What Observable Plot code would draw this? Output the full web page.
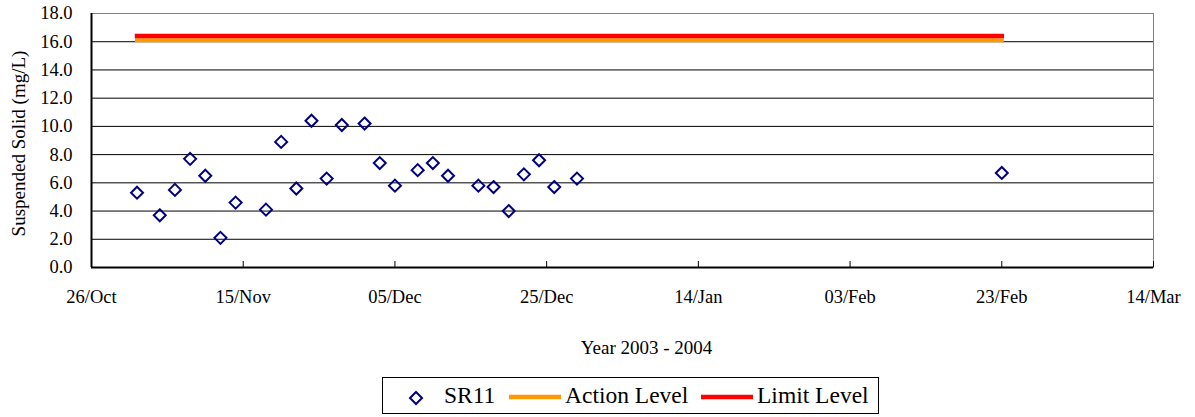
<!DOCTYPE html>
<html>
<head>
<meta charset="utf-8">
<script src="https://cdn.jsdelivr.net/npm/d3@7"></script>
<script src="https://cdn.jsdelivr.net/npm/@observablehq/plot@0.6"></script>
<style>
  html, body { margin: 0; padding: 0; background: #fff; }
  #wrap { position: relative; width: 1195px; height: 417px; overflow: hidden; font-family: "Liberation Serif", "Times New Roman", serif; }
  #legend { position: absolute; left: 382px; top: 377px; width: 495px; height: 35px; border: 1px solid #000; box-sizing: content-box; font-size: 23.5px; color: #000; }
  #legend .item { position: absolute; top: 0; height: 35px; line-height: 35px; white-space: nowrap; }
  #legend svg { position: absolute; }
</style>
</head>
<body>
<div id="wrap">
  <div id="chart"></div>
  <div id="legend"></div>
</div>
<script>
// ---- data ----
const sampleDates = ["2003-11-01","2003-11-04","2003-11-06","2003-11-08","2003-11-10","2003-11-12","2003-11-14",
  "2003-11-18","2003-11-20","2003-11-22","2003-11-24","2003-11-26","2003-11-28","2003-12-01","2003-12-03",
  "2003-12-05","2003-12-08","2003-12-10","2003-12-12","2003-12-16","2003-12-18","2003-12-20","2003-12-22",
  "2003-12-24","2003-12-26","2003-12-29","2004-02-23"];
const sr11 = [5.3, 3.7, 5.5, 7.7, 6.5, 2.1, 4.6,
  4.1, 8.9, 5.6, 10.4, 6.3, 10.1, 10.2, 7.4,
  5.8, 6.9, 7.4, 6.5, 5.8, 5.7, 4.0, 6.6,
  7.6, 5.7, 6.3, 6.7];
const levelDates = ["2003-11-01", "2004-02-23"];
const actionLevel = 16.1;
const limitLevel = 16.4;
const xTickDates = ["2003-10-26","2003-11-15","2003-12-05","2003-12-25","2004-01-14","2004-02-03","2004-02-23","2004-03-14"];
const yTicks = [0, 2, 4, 6, 8, 10, 12, 14, 16, 18];
const seriesNames = ["SR11", "Action Level", "Limit Level"];
const xTitle = "Year 2003 - 2004";
const yTitle = "Suspended Solid (mg/L)";

// ---- build ----
const parse = d3.utcParse("%Y-%m-%d");
const points = sampleDates.map((d, i) => ({date: parse(d), value: sr11[i]}));
const actionData = levelDates.map(d => ({date: parse(d), value: actionLevel}));
const limitData = levelDates.map(d => ({date: parse(d), value: limitLevel}));
const xTicks = xTickDates.map(parse);

const chart = Plot.plot({
  width: 1195,
  height: 367,
  marginLeft: 91,
  marginRight: 42,
  marginTop: 13,
  marginBottom: 100,
  style: {fontFamily: "'Liberation Serif', 'Times New Roman', serif", fontSize: "18.5px", color: "#000", background: "#fff"},
  x: {type: "utc", domain: [xTicks[0], xTicks[xTicks.length - 1]]},
  y: {domain: [0, 18]},
  marks: [
    Plot.ruleY(yTicks.filter(v => v > 0 && v < 18), {stroke: "#000", strokeWidth: 1}),
    Plot.frame({stroke: "#808080"}),
    Plot.line(actionData, {x: "date", y: "value", stroke: "#FF9900", strokeWidth: 4, strokeLinecap: "square"}),
    Plot.line(limitData, {x: "date", y: "value", stroke: "#FF0000", strokeWidth: 4.5, strokeLinecap: "square"}),
    Plot.dot(points, {x: "date", y: "value", symbol: "diamond2", r: 5.4, stroke: "#000080", strokeWidth: 2, fill: "none"}),
    Plot.ruleX(xTicks, {x: d => d, insetTop: 248, stroke: "#000"}),
    Plot.ruleY([0], {stroke: "#000", strokeWidth: 2}),
    Plot.ruleX([xTicks[0]], {stroke: "#000", strokeWidth: 2}),
    Plot.axisX({ticks: xTicks, tickFormat: d3.utcFormat("%d/%b"), tickSize: 0, tickPadding: 22, label: null}),
    Plot.axisY({ticks: yTicks, tickFormat: d => d.toFixed(1), tickSize: 0, tickPadding: 19, label: null}),
    Plot.text([xTitle], {frameAnchor: "bottom", textAnchor: "middle", lineAnchor: "middle", dx: 24, dy: 80, fontSize: 19}),
    Plot.text([yTitle], {frameAnchor: "left", textAnchor: "middle", rotate: -90, dx: -73, dy: 3, fontSize: 19, lineAnchor: "middle"})
  ]
});
document.getElementById("chart").appendChild(chart);

// ---- legend ----
const legend = document.getElementById("legend");
const ns = "http://www.w3.org/2000/svg";
function addSvg(left, width, inner) {
  const s = document.createElementNS(ns, "svg");
  s.setAttribute("width", width); s.setAttribute("height", 35);
  s.style.left = left + "px"; s.style.top = "0px";
  s.innerHTML = inner;
  legend.appendChild(s);
}
function addText(left, txt) {
  const d = document.createElement("div");
  d.className = "item"; d.style.left = left + "px"; d.textContent = txt;
  legend.appendChild(d);
}
addSvg(23, 20, '<path d="M10,14 L16,20 L10,26 L4,20 Z" fill="none" stroke="#000080" stroke-width="2"/>');
addText(61, seriesNames[0]);
addSvg(125, 54, '<line x1="1" x2="53" y1="19" y2="19" stroke="#FF9900" stroke-width="4.5"/>');
addText(182, seriesNames[1]);
addSvg(317, 54, '<line x1="1" x2="53" y1="19" y2="19" stroke="#FF0000" stroke-width="4.5"/>');
addText(374, seriesNames[2]);
</script>
</body>
</html>
